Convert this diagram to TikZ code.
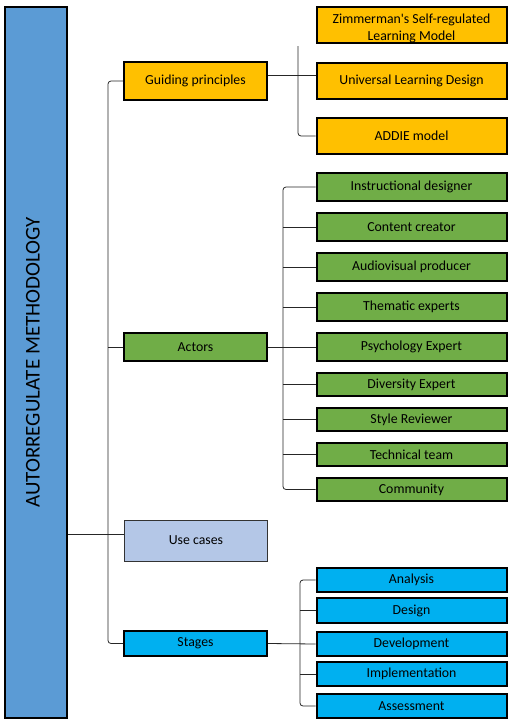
\documentclass[tikz,border=0pt]{standalone}
\usepackage{fontspec}
\setmainfont{Carlito}
\usepackage{tikz}

\definecolor{mainblue}{HTML}{5B9BD5}
\definecolor{gold}{HTML}{FFC000}
\definecolor{leaf}{HTML}{70AD47}
\definecolor{paleblue}{HTML}{B4C7E7}
\definecolor{skyblue}{HTML}{00B0F0}

\begin{document}
\begin{tikzpicture}[x=1pt,y=-1pt,
		box/.style = {draw=black, line width=2pt, inner sep=0pt, align=center,
			font=\fontsize{13.8}{15}\selectfont},
		mainbox/.style = {box, fill=mainblue, minimum width=62pt, minimum height=711pt},
		principle/.style = {box, fill=gold, minimum width=190pt, minimum height=36pt},
		actor/.style = {box, fill=leaf, minimum width=190pt, minimum height=28pt},
		stagebox/.style = {box, fill=skyblue, minimum width=190pt, minimum height=24pt},
		branch/.style = {box, minimum width=143pt},
		link/.style = {draw=black!85, line width=0.8pt, rounded corners=3pt}
			]
		\useasboundingbox (0,0) rectangle (512,726);

		\node [mainbox, label={[rotate=90,font=\fontsize{21}{24}\selectfont,yshift=3pt]center:AUTORREGULATE METHODOLOGY}] (Main) at (36,362.5) {};

		\node [branch, fill=gold, minimum height=38pt] (Guiding) at (195.5,81) {Guiding principles};
		\node [branch, fill=leaf, minimum height=28pt] (Actors) at (195.5,347) {Actors};
		\node [branch, fill=paleblue, draw=black!80, line width=0.8pt, minimum height=41pt] (UseCases) at (196,540.5) {Use cases};
		\node [branch, fill=skyblue, minimum height=25pt] (Stages) at (195.5,643.5) {Stages};

		\node [principle] (Zimmerman) at (411.5,25) {\raisebox{-4pt}[\height][\depth]{\begin{tabular}{@{}c@{}}Zimmerman\textquotesingle s Self-regulated\\[2pt]Learning Model\end{tabular}}};
		\node [principle] (Universal) at (411.5,81) {Universal Learning Design};
		\node [principle] (Addie) at (411.5,136) {ADDIE model};

		\node [actor] (Designer) at (411.5,187) {Instructional designer};
		\node [actor] (Creator) at (411.5,227) {Content creator};
		\node [actor] (Producer) at (411.5,267) {Audiovisual producer};
		\node [actor] (Thematic) at (411.5,307) {Thematic experts};
		\node [actor] (Psychology) at (411.5,347) {Psychology Expert};
		\node [actor, minimum height=23pt] (Diversity) at (411.5,384.5) {Diversity Expert};
		\node [actor, minimum height=23pt] (Style) at (411.5,419.5) {Style Reviewer};
		\node [actor, minimum height=23pt] (Technical) at (411.5,454.5) {Technical team};
		\node [actor, minimum height=23pt] (Community) at (411.5,489.5) {Community};

		\node [stagebox] (Analysis) at (411.5,580) {Analysis};
		\node [stagebox, minimum height=25pt] (Design) at (411.5,610.5) {Design};
		\node [stagebox] (Development) at (411.5,644) {Development};
		\node [stagebox] (Implementation) at (411.5,674) {Implementation};
		\node [stagebox] (Assessment) at (411.5,706) {Assessment};

		\coordinate (Spine) at (108,0);
		\coordinate (GuideBar) at (298,0);
		\coordinate (ActorBar) at (283,0);
		\coordinate (StageBar) at (300,0);

		\draw [link] (Guiding.west) -| (Spine |- Stages.west) -- (Stages.west);
		\draw [link] (Actors.west) -- (Actors.west -| Spine);
		\draw [link] ([yshift=6pt]UseCases.west -| Main.east) -- ([yshift=6pt]UseCases.west);

		\draw [link] ([yshift=6pt]Guiding.east) -- ([yshift=6pt]Universal.west);
		\draw [link] ([yshift=-2pt]Zimmerman.south -| GuideBar) |- (Addie.west);

		\draw [link] (Actors.east) -- (Psychology.west);
		\draw [link] (Designer.west) -| (ActorBar |- Community.west) -- (Community.west);
		\foreach \n in {Creator,Producer,Thematic,Diversity,Style,Technical}
			\draw [link] (\n.west) -- (\n.west -| ActorBar);

		\draw [link] (Stages.east) -- (Development.west);
		\draw [link] (Analysis.west) -| (StageBar |- Assessment.west) -- (Assessment.west);
		\foreach \n in {Design,Implementation}
			\draw [link] (\n.west) -- (\n.west -| StageBar);

	\end{tikzpicture}
\end{document}
